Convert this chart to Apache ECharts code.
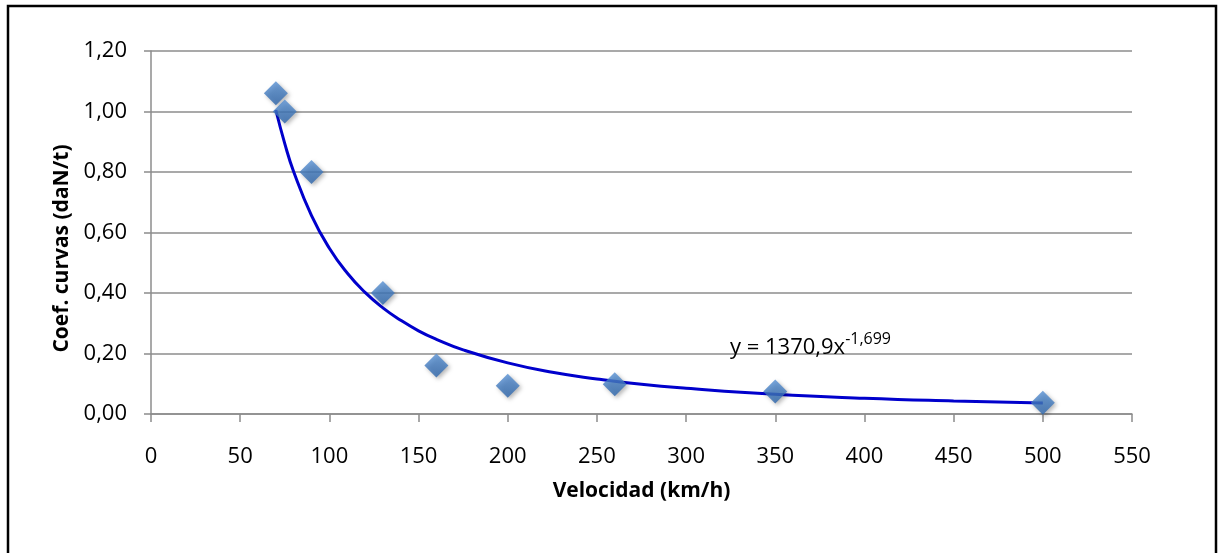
<!DOCTYPE html>
<html>
<head>
<meta charset="utf-8">
<script src="https://cdn.jsdelivr.net/npm/echarts@6/dist/echarts.min.js"></script>
<style>
  html, body { margin: 0; padding: 0; background: #fff; }
  #main { width: 1218px; height: 553px; }
</style>
</head>
<body>
<div id="main"></div>
<script>
// puntos medidos (velocidad km/h, coef. curvas daN/t)
var velocidad = [70, 75, 90, 130, 160, 200, 260, 350, 500];
var coefCurvas = [1.06, 1.00, 0.80, 0.40, 0.16, 0.093, 0.098, 0.074, 0.037];

// línea de tendencia potencial
var tendX = [70, 75, 80, 90, 100, 110, 120, 130, 140, 150, 160, 175, 200, 225, 250, 275, 300, 350, 400, 450, 500];
var tendY = [1.005, 0.894, 0.801, 0.656, 0.548, 0.466, 0.402, 0.351, 0.310, 0.275, 0.247, 0.212, 0.169, 0.138, 0.116, 0.098, 0.085, 0.065, 0.052, 0.043, 0.036];

var ecuacion = "y = 1370,9x";
var exponente = "-1,699";

var font = "Open Sans";
var gris = "#8c8c8c";

var myChart = echarts.init(document.getElementById("main"));

myChart.setOption({
  animation: false,
  grid: { left: 151, top: 51, right: 86, bottom: 139 },
  xAxis: {
    type: "value",
    min: 0,
    max: 550,
    interval: 50,
    name: "Velocidad (km/h)",
    nameLocation: "middle",
    nameGap: 67,
    nameTextStyle: { fontFamily: font, fontSize: 21, fontWeight: "bold", color: "#000" },
    axisLine: { lineStyle: { color: gris, width: 1.5 } },
    axisTick: { show: true, length: 8, lineStyle: { color: gris, width: 1.5 } },
    axisLabel: { fontFamily: font, fontSize: 22, color: "#000", margin: 32 },
    splitLine: { show: false }
  },
  yAxis: {
    type: "value",
    min: 0,
    max: 1.2,
    interval: 0.2,
    name: "Coef. curvas (daN/t)",
    nameLocation: "middle",
    nameGap: 68,
    nameTextStyle: { fontFamily: font, fontSize: 21, fontWeight: "bold", color: "#000", padding: [0, 32, 0, 0] },
    axisLine: { show: true, lineStyle: { color: gris, width: 1.5 } },
    axisTick: { show: true, length: 7, lineStyle: { color: gris, width: 1.5 } },
    axisLabel: {
      fontFamily: font, fontSize: 22, color: "#000", margin: 24,
      formatter: function (v) { return v.toFixed(2).replace(".", ","); }
    },
    splitLine: { show: true, lineStyle: { color: gris, width: 1.5 } }
  },
  graphic: [
    {
      type: "rect",
      shape: { x: 8, y: 6, width: 1208, height: 600 },
      style: { fill: "none", stroke: "#000", lineWidth: 2.5 },
      silent: true
    },
    {
      type: "text",
      left: 730,
      top: 331,
      style: {
        text: "{a|" + ecuacion + "}{b|" + exponente + "}",
        rich: {
          a: { fontFamily: font, fontSize: 22, color: "#000", lineHeight: 28, verticalAlign: "bottom" },
          b: { fontFamily: font, fontSize: 16, color: "#000", lineHeight: 28, verticalAlign: "top" }
        }
      },
      z: 10
    }
  ],
  series: [
    {
      //tendencia
      type: "line",
      data: tendX.map(function (x, i) { return [x, tendY[i]]; }),
      smooth: true,
      showSymbol: false,
      lineStyle: { color: "#0000cc", width: 3 },
      z: 2
    },
    {
      type: "scatter",
      data: velocidad.map(function (x, i) { return [x, coefCurvas[i]]; }),
      symbol: "diamond",
      symbolSize: 24,
      itemStyle: {
        color: new echarts.graphic.LinearGradient(0, 0, 0, 1, [
          { offset: 0, color: "#5790d3" },
          { offset: 1, color: "#2c65ab" }
        ]),
        shadowBlur: 4,
        shadowOffsetX: 2,
        shadowOffsetY: 2,
        shadowColor: "rgba(0,0,0,0.35)"
      },
      z: 3
    }
  ]
});
</script>
</body>
</html>
